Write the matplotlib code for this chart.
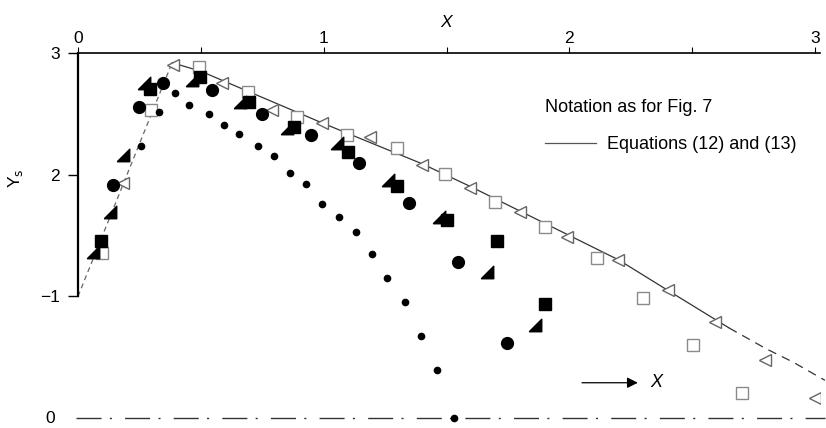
import matplotlib
matplotlib.use('Agg')
import matplotlib.pyplot as plt

plt.rcParams['font.family'] = ['Liberation Sans', 'DejaVu Sans']

# small filled dots
dot_x = [0.256, 0.329, 0.395, 0.453, 0.535, 0.595, 0.656, 0.734, 0.797, 0.864,
         0.929, 0.995, 1.064, 1.133, 1.195, 1.258, 1.332, 1.396, 1.461, 1.532]
dot_y = [2.235, 2.517, 2.673, 2.574, 2.495, 2.410, 2.334, 2.237, 2.153, 2.013,
         1.920, 1.758, 1.649, 1.531, 1.350, 1.153, 0.951, 0.671, 0.392, 0.002]

# large filled circles
circ_x = [0.144, 0.250, 0.346, 0.546, 0.750, 0.947, 1.144, 1.346, 1.548, 1.747]
circ_y = [1.912, 2.553, 2.755, 2.695, 2.495, 2.325, 2.093, 1.771, 1.284, 0.619]

# filled squares
sq_x = [0.094, 0.294, 0.495, 0.695, 0.879, 1.097, 1.297, 1.502, 1.705, 1.902]
sq_y = [1.454, 2.701, 2.799, 2.599, 2.389, 2.188, 1.909, 1.627, 1.457, 0.934]

# filled right-angle triangles
tri_x = [0.060, 0.131, 0.185, 0.267, 0.464, 0.661, 0.852, 1.056, 1.260, 1.471, 1.665, 1.858]
tri_y = [1.367, 1.693, 2.161, 2.750, 2.777, 2.599, 2.380, 2.257, 1.956, 1.654, 1.202, 0.764]

# open squares
osq_x = [0.096, 0.296, 0.494, 0.691, 0.890, 1.094, 1.297, 1.494, 1.697, 1.901,
         2.111, 2.301, 2.504, 2.701]
osq_y = [1.353, 2.531, 2.887, 2.681, 2.476, 2.325, 2.216, 2.003, 1.777, 1.572,
         1.312, 0.984, 0.600, 0.203]

# open triangles
otri_x = [0.184, 0.388, 0.585, 0.788, 0.992, 1.188, 1.399, 1.595, 1.799, 1.990,
          2.196, 2.403, 2.593, 2.796, 3.000]
otri_y = [1.929, 2.901, 2.750, 2.531, 2.421, 2.311, 2.079, 1.887, 1.695, 1.490,
          1.298, 1.052, 0.791, 0.477, 0.162]

# equations (12) and (13)
rise_x = [0.0, 0.383]
rise_y = [1.0, 2.92]
fall_x = [0.383, 0.5, 1.0, 1.4, 1.6, 2.0, 2.2, 2.4, 2.65]
fall_y = [2.92, 2.85, 2.42, 2.09, 1.90, 1.50, 1.30, 1.05, 0.74]
tail_x = [2.65, 2.8, 2.91, 3.04]
tail_y = [0.74, 0.57, 0.46, 0.31]

tri_marker = [(-1, -1), (1, -1), (1, 1), (-1, -1)]

fig = plt.figure(figsize=(8.26, 4.28), dpi=100)
ax = fig.add_axes([78 / 826, 0, 742 / 826, 375 / 428])
ax.set_xlim(0, 3.02)
ax.set_ylim(-0.082, 3)

# curve
ax.plot(rise_x, rise_y, color='#666666', lw=0.9, ls=(0, (4, 3)), clip_on=False)
ax.plot(fall_x, fall_y, color='#333333', lw=0.9, clip_on=False)
ax.plot(tail_x, tail_y, color='#333333', lw=0.9, ls=(0, (7, 5)), clip_on=False)

# zero line
ax.plot([-0.01, 3.04], [0, 0], color='#333333', lw=1.0,
        ls=(0, (18, 6, 1.5, 9.5)), clip_on=False)

ax.plot(osq_x, osq_y, 's', ms=8, mfc='white', mec='#8a8a8a', mew=1.0, ls='none')
ax.plot(otri_x, otri_y, '<', ms=8, mfc='white', mec='#666666', mew=1.0, ls='none')
ax.plot(dot_x, dot_y, 'o', ms=4.5, color='black', ls='none')
ax.plot(circ_x, circ_y, 'o', ms=8.5, color='black', ls='none')
ax.plot(tri_x, tri_y, marker=tri_marker, ms=9, color='black', ls='none')
ax.plot(sq_x, sq_y, 's', ms=8.5, color='black', ls='none')

# axes
ax.spines['right'].set_visible(False)
ax.spines['bottom'].set_visible(False)
ax.spines['left'].set_bounds(1, 3)
ax.spines['top'].set_linewidth(1.2)
ax.spines['left'].set_linewidth(1.6)

ax.xaxis.tick_top()
ax.set_xticks([0, 0.5, 1, 1.5, 2, 2.5, 3])
ax.set_xticklabels(['0', '', '1', '', '2', '', '3'])
ax.tick_params(axis='x', direction='out', length=4, width=0.8, pad=1, labelsize=12.5)

ax.set_yticks([1, 2, 3])
ax.set_yticklabels(['\u22121', '2', '3'])
ax.tick_params(axis='y', direction='out', length=7, width=1.0, pad=6, labelsize=12.5)

ax.text(-0.115, 0, '0', ha='center', va='center', fontsize=12.5)
ax.text(1.5, 3.25, 'X', ha='center', va='center', fontsize=12.5, style='italic',
        clip_on=False)
ax.text(-0.255, 1.97, 'Y$_\\mathrm{s}$', ha='center', va='center', fontsize=12.5,
        rotation=90, clip_on=False)

# notes
ax.text(1.9, 2.55, 'Notation as for Fig. 7', ha='left', va='center', fontsize=13)
ax.plot([1.9, 2.11], [2.26, 2.26], color='#555555', lw=0.9)
ax.text(2.152, 2.245, 'Equations (12) and (13)', ha='left', va='center', fontsize=13)

ax.annotate('', xy=(2.29, 0.29), xytext=(2.04, 0.29),
            arrowprops=dict(arrowstyle='-|>', color='black', lw=0.9,
                            mutation_scale=16))
ax.text(2.355, 0.29, 'X', ha='center', va='center', fontsize=13, style='italic')

fig.savefig('out.png', dpi=100)
